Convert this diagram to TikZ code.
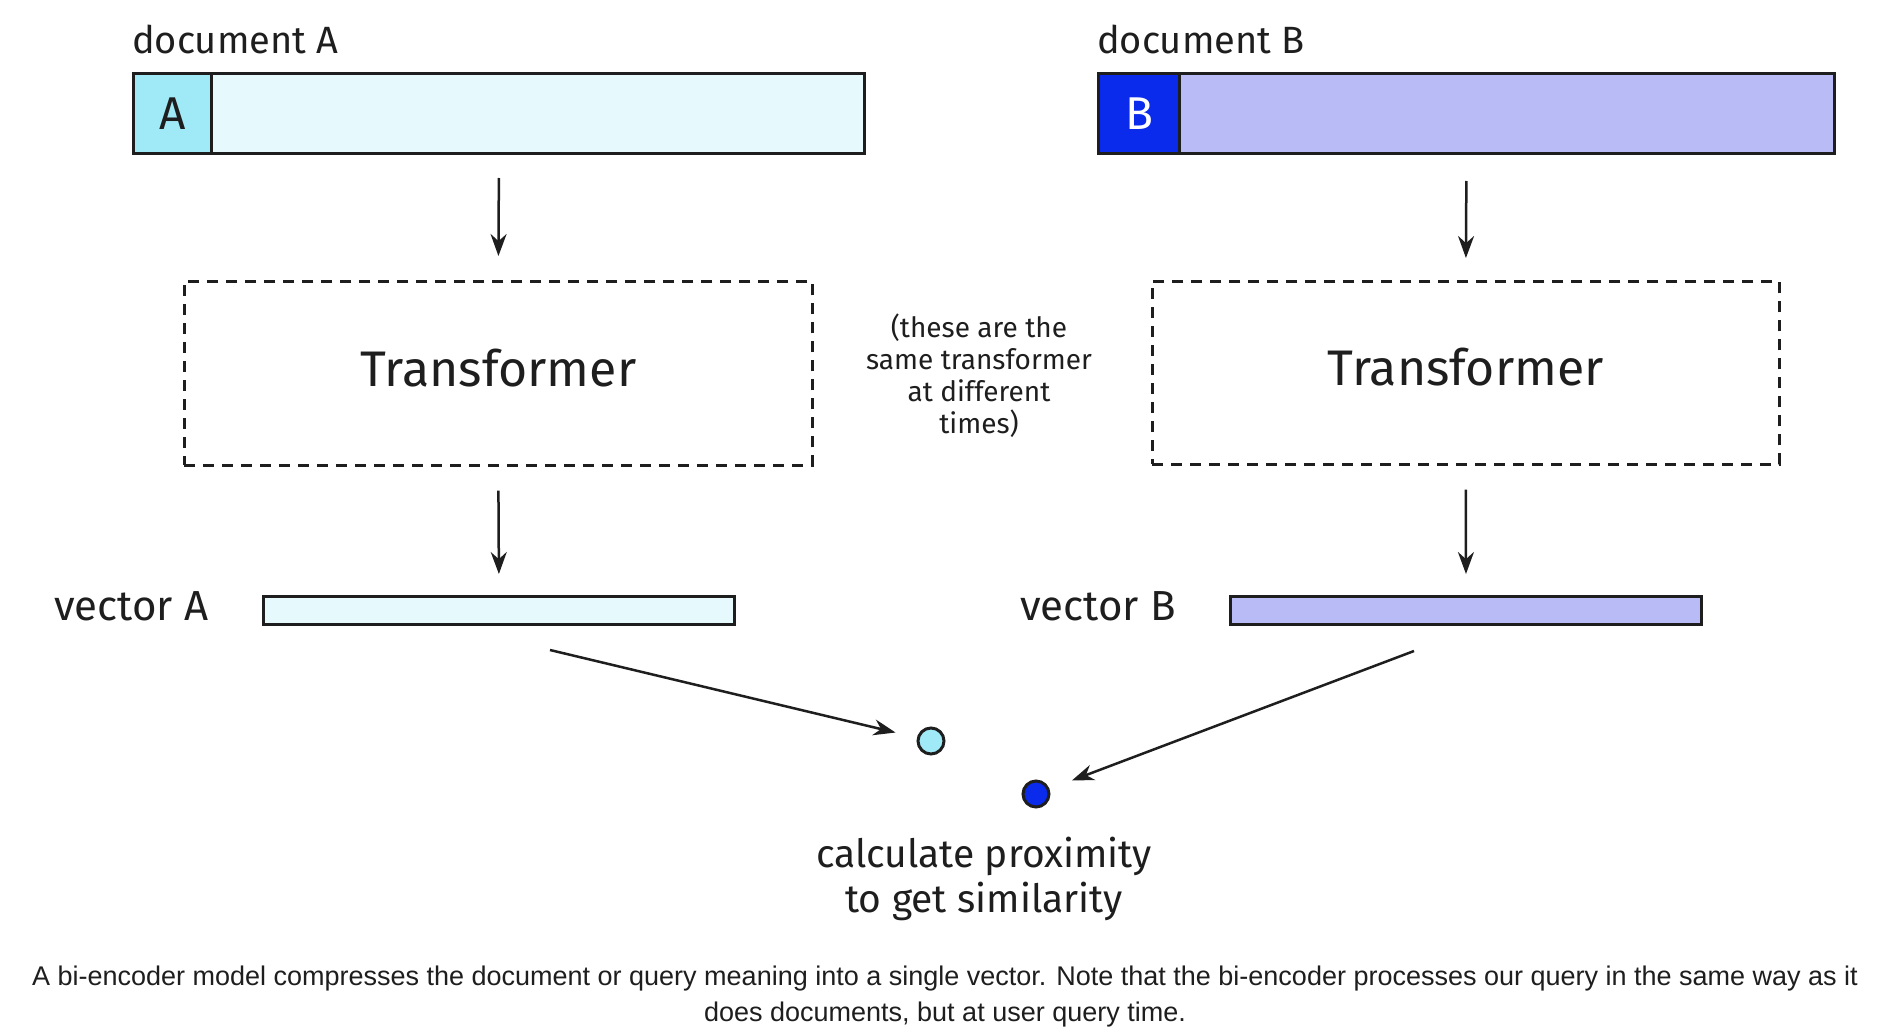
\documentclass[tikz,border=0pt]{standalone}
\usepackage{fontspec}
\setmainfont{Liberation Sans}
\newfontfamily\handfont{Fira Sans}
\usetikzlibrary{arrows.meta,positioning}
\definecolor{cyanlight}{HTML}{E6FAFD}
\definecolor{cyanmid}{HTML}{A0EAF8}
\definecolor{bluedeep}{HTML}{0A2BEB}
\definecolor{bluelight}{HTML}{B9BBF7}
\definecolor{inkgrey}{HTML}{1E1E1E}
\newcommand\labelsize{\handfont\fontsize{38}{44}\selectfont}
\newcommand\vecsize{\handfont\fontsize{42}{48}\selectfont}
\newcommand\keysize{\handfont\fontsize{46}{50}\selectfont}
\newcommand\tfsize{\handfont\fontsize{50}{56}\selectfont}
\newcommand\notesize{\handfont\fontsize{28}{32}\selectfont}
\newcommand\proxsize{\handfont\fontsize{39}{45}\selectfont}
\newcommand\capsize{\fontsize{27}{36}\selectfont}
\tikzset{
  bar/.style={draw=inkgrey, line width=3pt, inner sep=0pt, anchor=north west},
  tfbox/.style={draw=inkgrey, line width=2.6pt, dash pattern=on 11pt off 8pt, inner sep=0pt, anchor=north west, text depth=12pt},
  arr/.style={draw=inkgrey, line width=2.5pt, -{Stealth[length=22pt,width=16pt]}},
  dot/.style={circle, draw=inkgrey, line width=3pt, minimum size=26pt, inner sep=0pt},
  hand/.style={text=inkgrey, inner sep=0pt},
}

\begin{document}
\begin{tikzpicture}[x=1pt,y=-1pt]
\useasboundingbox[fill=white] (0,0) rectangle (1882,1036);
% Drawing documents
% Document A
\node[bar, fill=cyanlight, minimum width=731pt, minimum height=80pt] (docA) at (132,72) {};
\node[bar, fill=cyanmid, minimum width=78pt, minimum height=80pt, font=\keysize, text=inkgrey] (keyA) at (132,72) {A};
\node[hand, anchor=base west, font=\labelsize] (labA) at (132,53) {document A};
% Document B
\node[bar, fill=bluelight, minimum width=736pt, minimum height=80pt] (docB) at (1097,72) {};
\node[bar, fill=bluedeep, minimum width=81pt, minimum height=80pt, font=\keysize, text=white] (keyB) at (1097,72) {B};
\node[hand, anchor=base west, font=\labelsize] (labB) at (1097,53) {document B};
% Done with documents; drawing transformers
\node[tfbox, minimum width=628pt, minimum height=184pt, font=\tfsize, text=inkgrey] (tfA) at (183,280) {Transformer};
\node[tfbox, minimum width=627pt, minimum height=183pt, font=\tfsize, text=inkgrey] (tfB) at (1151,280) {Transformer};
\node[hand, align=center, font=\notesize] (note) at (979,376) {(these are the\\same transformer\\at different\\times)};
% Done with transformers; drawing vectors
\node[bar, fill=cyanlight, minimum width=471pt, minimum height=28pt] (vecA) at (262,595) {};
\node[bar, fill=bluelight, minimum width=471pt, minimum height=28pt] (vecB) at (1229,595) {};
\node[hand, anchor=base west, font=\vecsize] (labvA) at (54,620) {vector A};
\node[hand, anchor=base west, font=\vecsize] (labvB) at (1020,620) {vector B};
% Done with vectors; drawing proximity
\node[dot, fill=cyanmid] (dotA) at (931,741) {};
\node[dot, fill=bluedeep] (dotB) at (1036,794) {};
\node[hand, align=center, font=\proxsize] (prox) at (984,879) {calculate proximity\\to get similarity};
\coordinate (outA) at (550,650);
\coordinate (outB) at (1414,651);
% Drawing arrows
\draw[arr, shorten <=23pt, shorten >=24pt] (docA.south) -- (tfA.north);
\draw[arr, shorten <=26pt, shorten >=22pt] (docB.south) -- (tfB.north);
\draw[arr, shorten <=24pt, shorten >=21pt] (tfA.south) -- (vecA.north);
\draw[arr, shorten <=24pt, shorten >=21pt] (tfB.south) -- (vecB.north);
\draw[arr, shorten >=22pt] (outA) -- (dotA);
\draw[arr, shorten >=24pt] (outB) -- (dotB);
% Done with arrows; drawing caption
\node[align=center, font=\capsize, text=inkgrey] (caption) at (945,997) {A bi-encoder model compresses the document or query meaning into a single vector. Note that the bi-encoder processes our query in the same way as it\\does documents, but at user query time.};
\end{tikzpicture}
\end{document}
